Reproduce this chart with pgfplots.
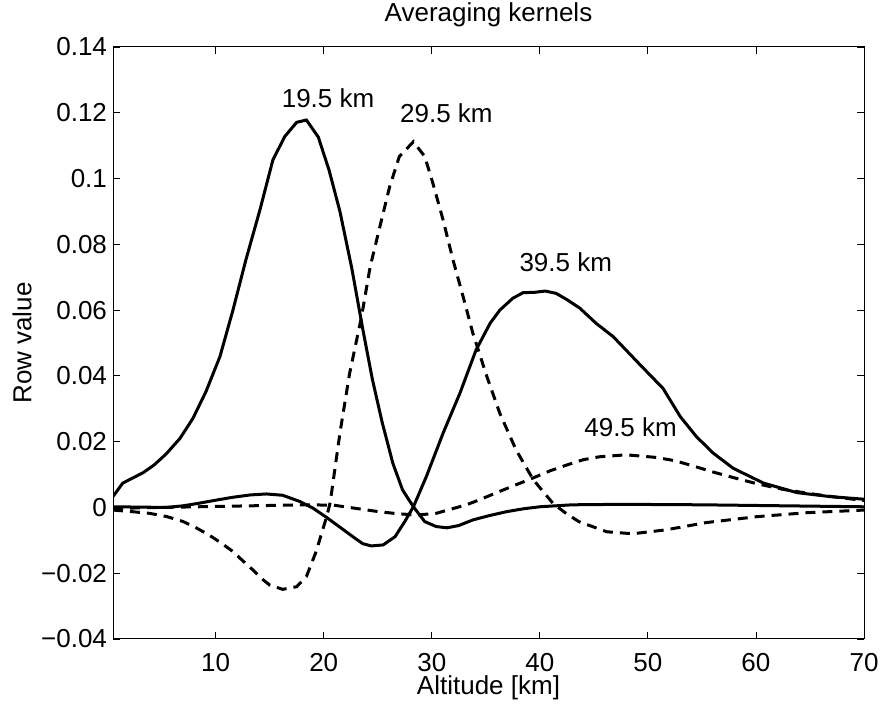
\documentclass[border=0pt]{standalone}
\usepackage{pgfplots}
\pgfplotsset{compat=1.18}
\usepackage{fontspec}
\setmainfont{Liberation Sans}
\begin{document}
\fontsize{13}{15.6}\selectfont
\begin{tikzpicture}
\begin{axis}[
  name=ax,
  scale only axis,
  width=375.5pt, height=296pt,
  xmin=0.5, xmax=70, ymin=-0.04, ymax=0.14,
  xtick={10,20,30,40,50,60,70},
  ytick={-0.04,-0.02,0,0.02,0.04,0.06,0.08,0.1,0.12,0.14},
  yticklabels={−0.04,−0.02,0,0.02,0.04,0.06,0.08,0.1,0.12,0.14},
  xticklabels={10,20,30,40,50,60,70},
  tick align=inside,
  major tick length=3.5pt,
  tick style={black, line width=0.4pt},
  axis line style={line width=0.5pt},
  xticklabel style={yshift=-2.5pt},
  yticklabel style={xshift=1.5pt},
  title={Averaging kernels},
  every axis title/.style={at={(axis description cs:0.5,1.054)}, anchor=center},
  xlabel={Altitude [km]},
  xlabel style={at={(axis description cs:0.5,-0.0828)}, anchor=center},
  ylabel={Row value},
  ylabel style={at={(axis description cs:-0.1212,0.5)}, anchor=center},
  clip=true,
]
% 19.5 km (solid)
\addplot[black, line width=1.5pt, no markers] coordinates {
(0.5,0.0033)(1.4,0.0074)(2.3,0.0089)(3.3,0.0106)(4.3,0.0129)(5.4,0.0162)
(6.7,0.0210)(7.9,0.0271)(9.1,0.0352)(10.4,0.0459)(11.6,0.0600)(12.8,0.0753)
(14.1,0.0905)(15.3,0.1057)(16.4,0.1128)(17.5,0.1171)(18.4,0.1178)(19.5,0.1126)
(20.5,0.1025)(21.5,0.0900)(22.6,0.0727)(23.6,0.0545)(24.5,0.0390)(25.4,0.0260)
(26.4,0.0134)(27.3,0.0053)(28.3,0.0002)(29.35,-0.0043)(30.4,-0.0058)(31.4,-0.0062)
(32.5,-0.0055)(33.8,-0.0038)(35.3,-0.0025)(36.9,-0.0013)(38.5,-0.0004)(40,0.0002)
(43,0.0008)(46,0.0009)(50,0.0009)(55,0.0008)(60,0.0006)(65,0.0004)(70,0.0002)
};
% 39.5 km (solid)
\addplot[black, line width=1.5pt, no markers] coordinates {
(0.5,0.0002)(3,0.0001)(5.4,0.0000)(7,0.0005)(8.5,0.0013)(10,0.0022)(11.6,0.0031)
(13.2,0.0038)(14.7,0.0041)(16.2,0.0037)(17.8,0.0018)(19,-0.0002)(20.25,-0.0030)
(21.5,-0.0060)(22.7,-0.0089)(23.6,-0.0110)(24.4,-0.0117)(25.5,-0.0114)(26.6,-0.0089)
(27.5,-0.0043)(28.3,0.0002)(29.5,0.0094)(31.05,0.0226)(32.6,0.0347)(34.1,0.0479)
(35.4,0.0560)(36.3,0.0600)(37.5,0.0636)(38.45,0.0653)(39.5,0.0654)(40.5,0.0658)
(41.5,0.0651)(42.5,0.0632)(43.7,0.0606)(45.2,0.0560)(46.8,0.0519)(49.3,0.0433)
(51.4,0.0362)(53,0.0276)(54.5,0.0215)(56.05,0.0165)(57.9,0.0119)(60.7,0.0074)
(63.8,0.0045)(66.85,0.0033)(70,0.0025)
};
% 29.5 km (dashed)
\addplot[black, line width=1.5pt, no markers, dash pattern=on 5pt off 3.5pt] coordinates {
(0.5,-0.0008)(2,-0.0012)(3.9,-0.0018)(5.5,-0.0028)(7,-0.0043)(8.2,-0.0062)
(9.4,-0.0084)(10.5,-0.0108)(11.6,-0.0134)(12.5,-0.0162)(13.45,-0.0190)(14.2,-0.0215)
(15,-0.0236)(16.2,-0.0249)(17.5,-0.0241)(18.4,-0.0210)(19.3,-0.0134)(20.3,-0.0025)
(20.6,0.0015)(21.5,0.0226)(22.4,0.0408)(23.5,0.0580)(24.3,0.0732)(25.2,0.0854)
(26.1,0.0975)(27.0,0.1067)(28.3,0.1112)(29.35,0.1067)(30.1,0.0986)(31.05,0.0874)
(31.97,0.0752)(32.9,0.0641)(33.8,0.0530)(35.1,0.0398)(36.3,0.0286)(37.8,0.0175)
(39.4,0.0084)(41.2,0.0013)(42.3,-0.0015)(43.6,-0.0043)(46.2,-0.0074)(48.6,-0.0080)
(51.7,-0.0068)(55.4,-0.0046)(60.1,-0.0028)(64.7,-0.0016)(70,-0.0008)
};
% 49.5 km (dashed)
\addplot[black, line width=1.5pt, no markers, dash pattern=on 5pt off 3.5pt] coordinates {
(0.5,-0.0003)(5,0.0000)(10,0.0003)(15,0.0006)(18,0.0008)(20.9,0.0007)(23,-0.0003)
(24.9,-0.0012)(26.8,-0.0019)(28.6,-0.0023)(30.4,-0.0018)(31.8,-0.0005)(33.2,0.0008)
(34.4,0.0023)(36,0.0045)(37.5,0.0065)(39.4,0.0090)(41,0.0112)(42.5,0.0129)
(44,0.0145)(45.5,0.0154)(48,0.0160)(50.8,0.0152)(52.5,0.0142)(54,0.0128)(56,0.0108)
(58,0.0090)(60.1,0.0072)(62.5,0.0055)(65,0.0042)(67.5,0.0031)(70,0.0021)
};
\node at (axis cs:20.4,0.1245) {19.5 km};
\node at (axis cs:31.35,0.1200) {29.5 km};
\node at (axis cs:42.4,0.0746) {39.5 km};
\node at (axis cs:48.4,0.0245) {49.5 km};
\end{axis}
\pgfresetboundingbox
\path[use as bounding box] ([shift={(-56.5pt,-33pt)}]ax.south west) rectangle ([shift={(9pt,23.5pt)}]ax.north east);
\end{tikzpicture}
\end{document}
